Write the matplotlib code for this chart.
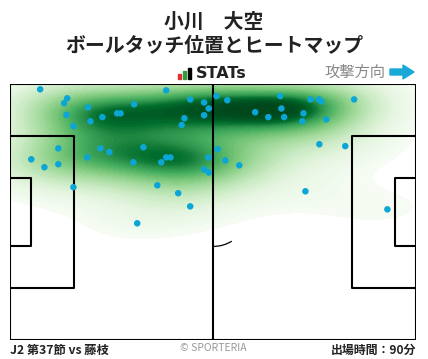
"""
plot.py - ball touch positions and heat map (SPORTERIA style)
Output: out.png
"""
import numpy as np
import matplotlib as mpl
import matplotlib.pyplot as plt
import matplotlib.patches as mpatches

mpl.rcParams.update({
    "font.family": ["Noto Sans CJK JP", "DejaVu Sans"],
})

# touch positions in metres (x: own goal -> attacking goal, y: from top touchline)
touch_x = [7.8, 40.4, 14.8, 14.0, 20.2, 32.1, 46.6, 50.2, 51.4, 53.4,
           14.6, 23.9, 20.8, 27.7, 28.6, 45.1, 44.4, 50.2, 16.4, 12.5,
           23.4, 25.7, 34.5, 5.5, 8.9, 12.5, 20.0, 31.9, 39.1, 40.4,
           41.5, 51.3, 53.7, 50.2, 51.4, 16.4, 38.1, 43.5, 46.6, 32.9,
           97.6, 56.2, 69.9, 63.4, 66.8, 70.2, 70.9, 75.9, 75.6, 77.7,
           79.9, 80.5, 81.8, 89.0, 55.7, 59.3, 80.0, 86.7, 76.4]
touch_y = [1.4, 1.7, 3.8, 5.1, 6.2, 5.4, 4.1, 4.9, 6.5, 3.2,
           8.2, 8.8, 9.9, 7.8, 7.8, 9.1, 10.9, 8.3, 11.2, 17.1,
           17.1, 18.1, 16.8, 20.0, 22.1, 21.3, 19.5, 20.8, 20.8, 19.5,
           19.5, 19.5, 17.3, 22.7, 23.5, 27.4, 26.9, 29.0, 32.5, 37.0,
           33.3, 4.3, 3.2, 7.5, 8.8, 6.5, 8.8, 7.8, 9.9, 4.1,
           4.1, 4.6, 9.4, 4.1, 20.3, 21.6, 16.0, 16.5, 28.5]

player = "小川　大空"
subtitle = "ボールタッチ位置とヒートマップ"
match_label = "J2 第37節 vs 藤枝"
minutes_label = "出場時間：90分"

L, W = 105.0, 68.0
C_DOT = "#0ba6d6"
C_TXT = "#222222"

fig = plt.figure(figsize=(4.28, 3.59), dpi=100)
ax = fig.add_axes([10/428, 19/359, 406/428, 256/359])
ax.set_xlim(0, L); ax.set_ylim(W, 0); ax.axis("off")

# --- KDE heat map (scott bandwidth, full covariance, iso-proportion levels) ---
pts = np.vstack([touch_x, touch_y])
n = pts.shape[1]
fac = 1.1 * n ** (-1.0 / 6)
cov = np.cov(pts) * fac**2
inv = np.linalg.inv(cov)
gx, gy = np.meshgrid(np.linspace(-25, L + 25, 520), np.linspace(-20, W + 20, 360))
dens = np.zeros_like(gx)
for px, py in zip(touch_x, touch_y):
    dx = gx - px; dy = gy - py
    dens += np.exp(-0.5 * (inv[0, 0]*dx*dx + 2*inv[0, 1]*dx*dy + inv[1, 1]*dy*dy))
flat = dens.ravel()
order = np.argsort(flat)
cum = np.cumsum(flat[order]); cum /= cum[-1]
prop = np.empty_like(flat); prop[order] = cum
prop = prop.reshape(dens.shape)
levels = np.linspace(0.05, 1.0, 60)
ax.contourf(gx, gy, prop, levels=levels, cmap="Greens", zorder=1)

# --- pitch lines ---
lw = 1.5
ax.add_patch(mpatches.Rectangle((0, 0), L, W, fill=False, ec="black", lw=lw, zorder=3))
ax.plot([L/2, L/2], [0, W], color="black", lw=lw, zorder=3)
for x0, sgn in [(0, 1), (L, -1)]:
    ax.plot([x0, x0 + sgn*16.5, x0 + sgn*16.5, x0], [W/2-20.16, W/2-20.16, W/2+20.16, W/2+20.16],
            color="black", lw=lw, zorder=3)
    ax.plot([x0, x0 + sgn*5.5, x0 + sgn*5.5, x0], [W/2-9.16, W/2-9.16, W/2+9.16, W/2+9.16],
            color="black", lw=lw, zorder=3)
ax.add_patch(mpatches.Arc((L/2, W/2), 18.3, 18.3, theta1=58, theta2=90,
                          color="black", lw=0.9, zorder=2))

ax.scatter(touch_x, touch_y, s=22, color=C_DOT, edgecolors="none", zorder=4)

# --- titles ---
fig.text(0.5, 1 - 21/359, player, ha="center", va="center", fontsize=14.3,
         fontweight="bold", color=C_TXT)
fig.text(0.5, 1 - 46/359, subtitle, ha="center", va="center", fontsize=14.3,
         fontweight="bold", color=C_TXT)

# STATs logo
for (bx, bh, c) in [(177.5, 5, "#e03030"), (182.5, 8, "#2aa040"), (187.5, 11, "black")]:
    fig.add_artist(mpatches.Rectangle((bx/428, (359-78.5)/359), 3.5/428, bh/359,
                                      transform=fig.transFigure, color=c))
fig.text(196/428, 1 - 73/359, "STATs", ha="left", va="center", fontsize=11.5,
         fontweight="bold", color=C_TXT, family="DejaVu Sans")

# attack direction
fig.text(385/428, 1 - 72/359, "攻撃方向", ha="right", va="center", fontsize=11,
         color="#888888")
fig.add_artist(mpatches.FancyArrow(390/428, 1 - 72/359, 13/428, 0, width=6/359,
                                   head_width=14/359, head_length=11/428,
                                   length_includes_head=False, color="#19a8d8",
                                   transform=fig.transFigure))

# footer
fig.text(10/428, 1 - 350/359, match_label, ha="left", va="center", fontsize=8.8,
         fontweight="bold", color=C_TXT)
fig.text(213/428, 1 - 348/359, "© SPORTERIA", ha="center", va="center", fontsize=7.5,
         color="#999999")
fig.text(416/428, 1 - 350/359, minutes_label, ha="right", va="center", fontsize=8.6,
         fontweight="bold", color=C_TXT)

fig.savefig("out.png", dpi=100)
